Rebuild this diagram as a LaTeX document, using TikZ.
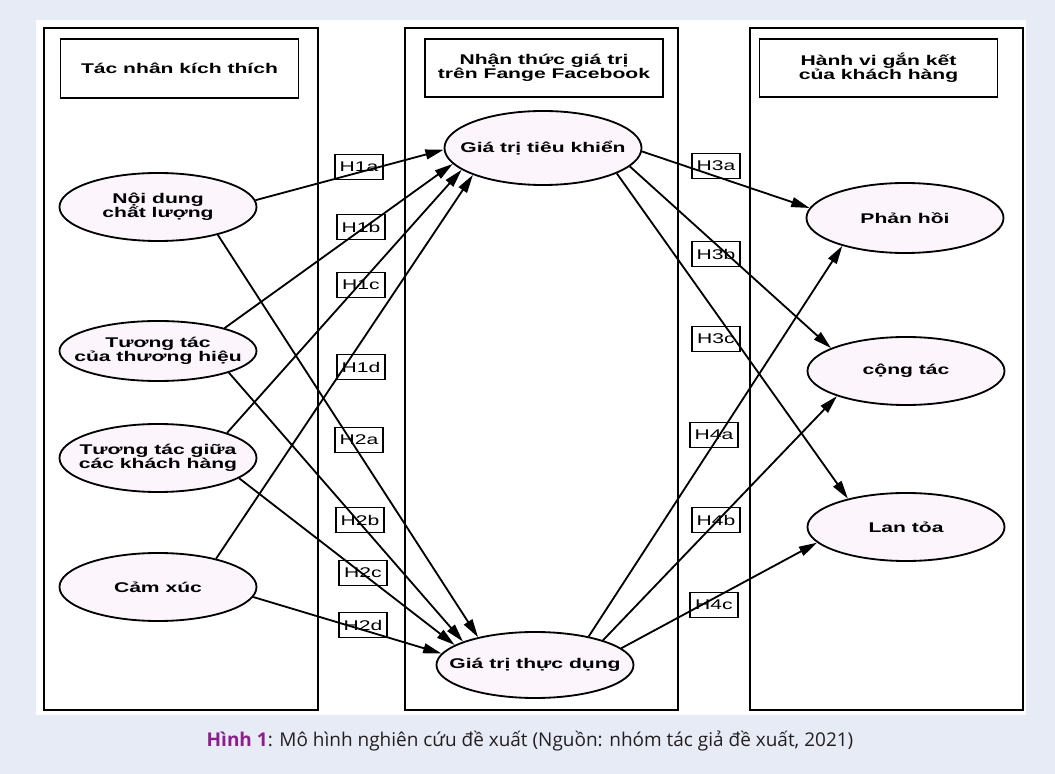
\documentclass[tikz,border=0pt]{standalone}
\usepackage{fontspec}
\setmainfont{Open Sans}
\newfontfamily\gvfont[FakeStretch=1.5]{Liberation Sans}
\usepackage{tikz}
\usetikzlibrary{shapes.geometric,arrows.meta}

\definecolor{pagebg}{RGB}{230,235,246}
\definecolor{ovalfill}{RGB}{252,245,251}
\definecolor{figpurple}{RGB}{140,30,140}
\definecolor{captext}{RGB}{35,31,32}

\tikzset{
  oval/.style={ellipse, draw, fill=ovalfill, line width=1.3pt, minimum width=4.925cm,
    minimum height=1.7cm, inner xsep=-20pt, inner ysep=0pt, align=center,
    font=\gvfont\bfseries\fontsize{10}{10}\selectfont},
  head/.style={draw, line width=1.3pt, minimum width=5.95cm, minimum height=1.47cm,
    inner sep=0pt, align=center, font=\gvfont\bfseries\fontsize{10}{10}\selectfont},
  hyp/.style={draw, line width=1.2pt, minimum width=1.2cm, minimum height=0.625cm,
    inner sep=0pt, font=\gvfont\fontsize{10}{10}\selectfont},
  link/.style={line width=1.3pt, -{Triangle[length=13pt,width=7pt]}}
}

\begin{document}
\begin{tikzpicture}[x=0.025cm, y=-0.025cm]
  \fill[pagebg] (0, 0) rectangle (1055, 774);
  \fill[white] (36, 20) rectangle (1026, 715);
  \draw[line width=1.3pt] (44, 28) rectangle (318, 710);
  \draw[line width=1.3pt] (405, 28) rectangle (678, 710);
  \draw[line width=1.3pt] (750, 28) rectangle (1023, 710);

  \node[head] (s) at (179.5, 68.5) {Tác nhân kích thích};
  \node[head] (o) at (544, 68) {Nhận thức giá trị\\trên Fange Facebook};
  \node[head] (r) at (878.5, 68) {Hành vi gắn kết\\của khách hàng};

  \node[oval] (nd) at (158, 207) {Nội dung\\chất lượng};
  \node[oval, minimum height=1.5cm] (th) at (158, 351) {Tương tác\\của thương hiệu};
  \node[oval] (kh) at (158, 458) {Tương tác giữa\\các khách hàng};
  \node[oval] (cx) at (158, 587) {Cảm xúc};
  \node[oval, minimum height=1.85cm] (tk) at (543, 148) {Giá trị tiêu khiển};
  \node[oval, minimum height=1.65cm] (td) at (535, 665) {Giá trị thực dụng};
  \node[oval, minimum height=1.75cm] (ph) at (905, 218) {Phản hồi};
  \node[oval] (ct) at (906, 371) {cộng tác};
  \node[oval] (lt) at (906, 527) {Lan tỏa};

  \node[hyp] (h1a) at (359, 167) {H1a};
  \node[hyp] (h1b) at (361, 227) {H1b};
  \node[hyp] (h1c) at (361, 285) {H1c};
  \node[hyp] (h1d) at (361, 367) {H1d};
  \node[hyp] (h2a) at (359, 440) {H2a};
  \node[hyp] (h2b) at (360, 520) {H2b};
  \node[hyp] (h2c) at (363, 573) {H2c};
  \node[hyp] (h2d) at (363, 625) {H2d};
  \node[hyp] (h3a) at (716, 166) {H3a};
  \node[hyp] (h3b) at (716, 254) {H3b};
  \node[hyp] (h3c) at (716, 339) {H3c};
  \node[hyp] (h4a) at (714, 435) {H4a};
  \node[hyp] (h4b) at (716, 520) {H4b};
  \node[hyp] (h4c) at (714, 605) {H4c};

  \draw [link] (nd.4) to (tk.181);
  \draw [link] (th.19) to (tk.190);
  \draw [link] (kh.20) to (tk.195);
  \draw [link] (cx.26) to (tk.201);
  \draw [link] (nd.-25) to (td.154);
  \draw [link] (th.-17) to (td.162);
  \draw [link] (kh.-14) to (td.166);
  \draw [link] (cx.-6) to (td.173);
  \draw [link] (tk.-2) to (ph.174);
  \draw [link] (tk.-12) to (ct.163);
  \draw [link] (tk.-19) to (lt.154);
  \draw [link] (td.28) to (ph.204);
  \draw [link] (td.20) to (ct.200);
  \draw [link] (td.11) to (lt.190);

  \node[text=captext] (cap) at (530, 741) {\fontsize{13.5}{15}\selectfont\textcolor{figpurple}{\textbf{Hình 1}}: Mô hình nghiên cứu đề xuất (Nguồn: nhóm tác giả đề xuất, 2021)};
\end{tikzpicture}
\end{document}
